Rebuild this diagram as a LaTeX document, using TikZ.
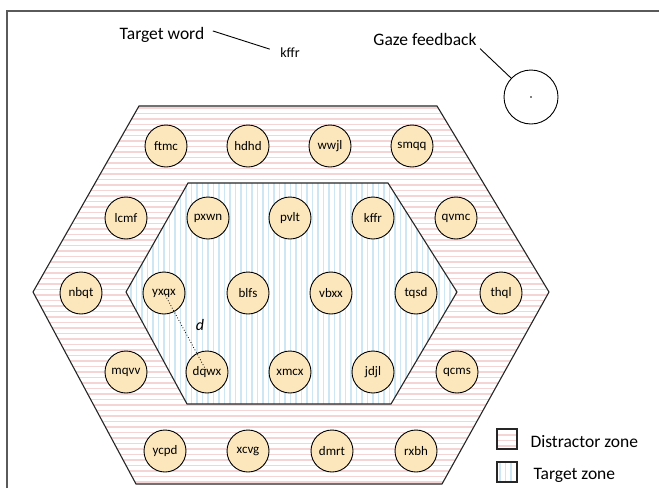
\documentclass[tikz,border=0pt]{standalone}
\usepackage{fontspec}
\setmainfont{Carlito}
\definecolor{wordfill}{RGB}{252,231,188}
\definecolor{stripepink}{RGB}{245,212,214}
\definecolor{stripeblue}{RGB}{206,231,242}
\definecolor{framegray}{RGB}{90,90,90}
\begin{document}
\begin{tikzpicture}[x=1pt,y=-1pt,
  word/.style={circle, draw=black, line width=0.9pt, fill=wordfill, minimum size=42pt, inner sep=0pt, font=\fontsize{13}{15}\selectfont},
  bigtxt/.style={font=\fontsize{17.5}{20}\selectfont},
  pinkline/.style={draw=stripepink, line width=1.5pt},
  blueline/.style={draw=stripeblue, line width=1.3pt},
  zoneedge/.style={draw=black!85, line width=1.1pt, line join=miter},
  legbox/.style={draw=black!85, line width=1.1pt, minimum size=20pt, inner sep=0pt, fill=white},
  pinkbox/.style={legbox, path picture={
      \foreach \i in {-7,-1.5,4} \draw[pinkline] ([yshift=\i pt]path picture bounding box.west) -- ([yshift=\i pt]path picture bounding box.east);}},
  bluebox/.style={legbox, path picture={
      \foreach \i in {-7,-1.5,4} \draw[blueline] ([xshift=\i pt]path picture bounding box.north) -- ([xshift=\i pt]path picture bounding box.south);}}
]
\useasboundingbox (0,0) rectangle (659,488);
\fill[white] (0,0) rectangle (659,488);

% frame
\draw[framegray, line width=1.3pt] (7,488) -- (7,11) -- (659,11);

% outer (distractor) zone
\def\outerhex{(139,106) -- (437,106) -- (549,292) -- (442,484) -- (136,484) -- (33,292) -- cycle}
\def\innerhex{(188,183) -- (388,183) -- (457,292) -- (391,404) -- (187,404) -- (126,292) -- cycle}
\fill[white] \outerhex;
\begin{scope}
  \clip \outerhex;
  \foreach \y in {108,113.5,...,490} \draw[pinkline] (20,\y) -- (560,\y);
\end{scope}
\fill[white] \innerhex;
\begin{scope}
  \clip \innerhex;
  \foreach \x in {120,125.5,...,465} \draw[blueline] (\x,175) -- (\x,410);
\end{scope}
\draw[zoneedge] \outerhex;
\draw[zoneedge] \innerhex;

% words
\node[word] (c-ftmc) at (166,146) {ftmc};
\node[word] (c-hdhd) at (248,146) {hdhd};
\node[word] (c-wwjl) at (330,146) {wwjl};
\node[word] (c-smqq) at (412,146) {smqq};

\node[word] (c-lcmf) at (126,218) {lcmf};
\node[word] (c-pxwn) at (208,218) {pxwn};
\node[word] (c-pvlt) at (290,218) {pvlt};
\node[word] (c-kffr) at (373,218) {kffr};
\node[word] (c-qvmc) at (456,218) {qvmc};

\node[word] (c-nbqt) at (81,293) {nbqt};
\node[word] (c-yxqx) at (164,293) {yxqx};
\node[word] (c-blfs) at (248,293) {blfs};
\node[word] (c-vbxx) at (331,293) {vbxx};
\node[word] (c-tqsd) at (416,293) {tqsd};
\node[word] (c-thql) at (501,293) {thql};

\node[word] (c-mqvv) at (126,372) {mqvv};
\node[word] (c-dqwx) at (207,372) {dqwx};
\node[word] (c-xmcx) at (290,372) {xmcx};
\node[word] (c-jdjl) at (373,372) {jdjl};
\node[word] (c-qcms) at (457,372) {qcms};

\node[word] (c-ycpd) at (165,451) {ycpd};
\node[word] (c-xcvg) at (248,451) {xcvg};
\node[word] (c-dmrt) at (332,451) {dmrt};
\node[word] (c-rxbh) at (416,451) {rxbh};

% distance
\draw[black, line width=0.8pt, dotted] (c-yxqx.center) -- (c-dqwx.center);
\node[bigtxt, font=\fontsize{16}{18}\selectfont\itshape] (dlab) at (200,325) {d};

% target word
\node[bigtxt, anchor=base] (tw) at (162,39.5) {Target word};
\node[font=\fontsize{14}{16}\selectfont, anchor=base] (tk) at (290,57) {kffr};
\draw[black, line width=0.9pt] ([shift={(5pt,4pt)}]tw.east) -- ([shift={(-7pt,3pt)}]tk.west);

% gaze feedback
\node[bigtxt, anchor=base] (gazetxt) at (425,45) {Gaze feedback};
\node[circle, draw=black, line width=0.9pt, minimum size=54pt, inner sep=0pt] (gaze) at (531,97) {};
\fill[black] (gaze.center) circle (0.8pt);
\draw[black, line width=0.9pt] (gazetxt.south east) -- (gaze);

% legend
\node[pinkbox] (lg1) at (507,439) {};
\node[bluebox] (lg2) at (507,472) {};
\node[bigtxt, anchor=base west] (lt1) at (527,447) {Distractor zone};
\node[bigtxt, anchor=base west] (lt2) at (530,479) {Target zone};
\end{tikzpicture}
\end{document}
